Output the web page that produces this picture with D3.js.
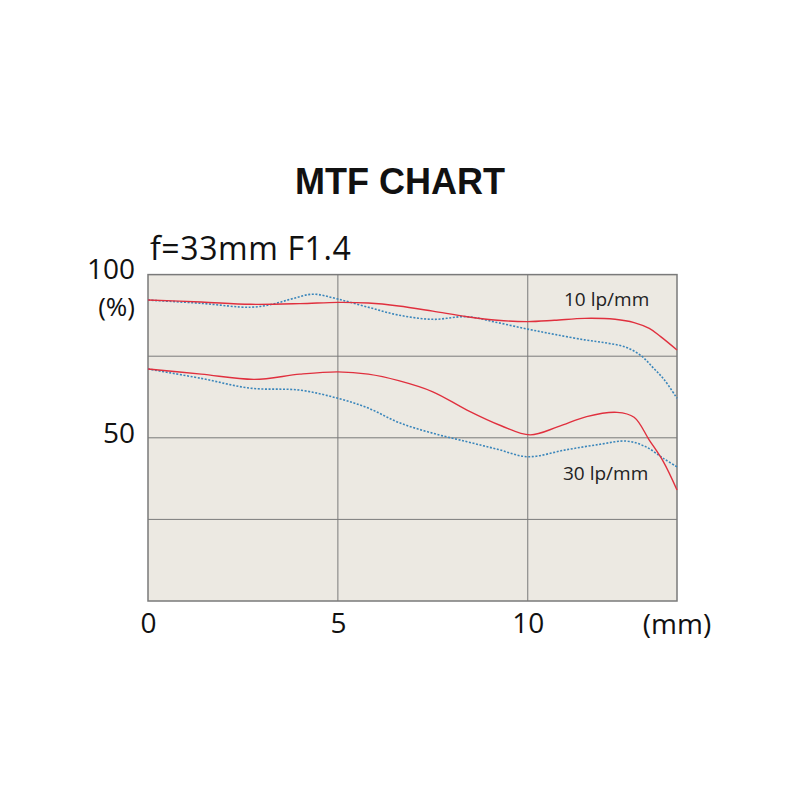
<!DOCTYPE html>
<html>
<head>
<meta charset="utf-8">
<script src="https://cdn.jsdelivr.net/npm/d3@7"></script>
<style>
  body { margin: 0; background: #fff; }
  svg { display: block; }
</style>
</head>
<body>
<svg width="800" height="800"></svg>
<script>
// image height (mm) / contrast (%)
var sag10 = [[0, 92.2], [1.4, 91.6], [2.7, 90.9], [4, 91.1], [5, 91.5], [5.8, 91.3], [6.6, 90.4], [7.5, 88.8], [8.4, 87.1], [9.2, 86.0], [10, 85.6], [10.7, 86.0], [11.5, 86.6], [12.3, 86.3], [12.8, 85.3], [13.2, 83.5], [13.5, 81.0], [13.93, 76.9]];
var mer10 = [[0, 92.2], [1.4, 91.2], [2.7, 90.0], [3.3, 91.0], [3.8, 92.6], [4.35, 94.0], [5, 92.5], [5.8, 90.0], [6.6, 87.6], [7.5, 86.3], [8.4, 87.1], [9.2, 85.3], [10, 83.3], [10.7, 81.7], [11.5, 80.0], [12.1, 79.0], [12.6, 77.7], [13.0, 75.0], [13.3, 71.5], [13.6, 67.7], [13.93, 62.1]];
var sag30 = [[0, 71.1], [1.4, 69.5], [2.8, 67.9], [4, 69.5], [5, 70.2], [5.8, 69.5], [6.6, 67.5], [7.5, 64.1], [8.4, 58.5], [9.3, 53.7], [10.06, 50.9], [10.8, 53.4], [11.55, 56.5], [12.35, 57.8], [12.8, 56.3], [13.2, 49.3], [13.57, 42.7], [13.93, 34.0]];
var mer30 = [[0, 71.1], [1.4, 68.2], [2.7, 65.2], [4, 64.6], [5, 62.1], [5.8, 59.1], [6.6, 54.7], [7.5, 51.4], [8.4, 48.8], [9.2, 46.5], [10, 44.2], [11, 46.3], [11.9, 48.0], [12.6, 49.0], [13.1, 47.3], [13.57, 43.7], [13.93, 41.1]];

var xTicks = [0, 5, 10];
var yTickLabels = [100, 50];
var xGrid = [5, 10];
var yGrid = [25, 50, 75];

var svg = d3.select('svg');
var margin = {left: 148, top: 274.6, right: 123, bottom: 199};
var w = 800 - margin.left - margin.right;
var h = 800 - margin.top - margin.bottom;

var x = d3.scaleLinear().domain([0, 13.93]).range([0, w]);
var y = d3.scaleLinear().domain([0, 100]).range([h, 0]);

var font = "'Open Sans', 'Noto Sans', sans-serif";

svg.append('text').attr('x', 400).attr('y', 194).attr('text-anchor', 'middle')
  .attr('font-family', "'Liberation Sans', Arial, sans-serif").attr('font-weight', 'bold')
  .attr('font-size', 36).attr('fill', '#111').text('MTF CHART');

svg.append('text').attr('x', 150).attr('y', 260)
  .attr('font-family', font).attr('font-size', 32).attr('letter-spacing', 0.6).attr('fill', '#111')
  .text('f=33mm F1.4');

var g = svg.append('g').attr('transform', 'translate(' + margin.left + ',' + margin.top + ')');

g.append('rect').attr('width', w).attr('height', h).attr('fill', '#ece9e2');

g.selectAll('.vg').data(xGrid).enter().append('line')
  .attr('x1', function(d) { return x(d); }).attr('x2', function(d) { return x(d); })
  .attr('y1', 0).attr('y2', h).attr('stroke', '#7a7a7a').attr('stroke-width', 1);
g.selectAll('.hg').data(yGrid).enter().append('line')
  .attr('x1', 0).attr('x2', w)
  .attr('y1', function(d) { return y(d); }).attr('y2', function(d) { return y(d); })
  .attr('stroke', '#7a7a7a').attr('stroke-width', 1);

g.append('rect').attr('width', w).attr('height', h).attr('fill', 'none')
  .attr('stroke', '#7a7a7a').attr('stroke-width', 1.5);

var line = d3.line()
  .x(function(d) { return x(d[0]); })
  .y(function(d) { return y(d[1]); })
  .curve(d3.curveCatmullRom.alpha(0.5));

[mer10, mer30].forEach(function(s) {
  g.append('path').datum(s).attr('d', line).attr('fill', 'none')
    .attr('stroke', '#3a86bb').attr('stroke-width', 1.6).attr('stroke-dasharray', '2,1.6');
});
[sag10, sag30].forEach(function(s) {
  g.append('path').datum(s).attr('d', line).attr('fill', 'none')
    .attr('stroke', '#e0303e').attr('stroke-width', 1.4);
});

// axes: labels only
var xAxis = g.append('g').attr('transform', 'translate(0,' + h + ')')
  .call(d3.axisBottom(x).tickValues(xTicks).tickSize(0).tickPadding(12));
var yAxis = g.append('g')
  .call(d3.axisLeft(y).tickValues(yTickLabels).tickSize(0).tickPadding(13));
[xAxis, yAxis].forEach(function(a) {
  a.select('.domain').remove();
  a.selectAll('text').attr('font-family', font).attr('font-size', 28).attr('fill', '#111');
});
yAxis.selectAll('text').attr('dy', '0.15em');

g.append('text').attr('x', w).attr('y', h + 33.5).attr('text-anchor', 'middle')
  .attr('font-family', font).attr('font-size', 28).attr('fill', '#111').text('(mm)');
g.append('text').attr('x', -13).attr('y', 41).attr('text-anchor', 'end')
  .attr('font-family', font).attr('font-size', 26).attr('fill', '#111').text('(%)');

g.append('text').attr('x', 416).attr('y', 31).attr('font-family', font)
  .attr('font-size', 19).attr('fill', '#222').text('10 lp/mm');
g.append('text').attr('x', 415).attr('y', 205.4).attr('font-family', font)
  .attr('font-size', 19).attr('fill', '#222').text('30 lp/mm');
</script>
</body>
</html>
